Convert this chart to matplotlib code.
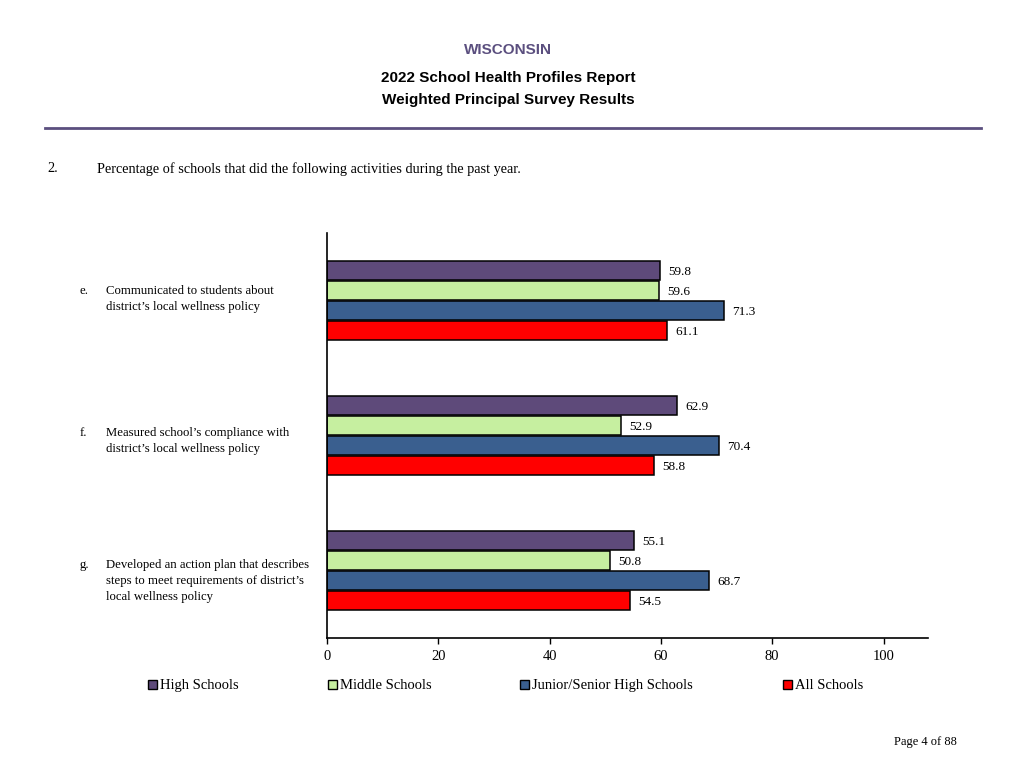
import numpy as np
import matplotlib
matplotlib.use("Agg")
import matplotlib.pyplot as plt
from matplotlib.patches import Rectangle

plt.rcParams['font.family'] = ['Liberation Serif', 'DejaVu Serif']

letters = ["e.", "f.", "g."]
items = [
    "Communicated to students about\ndistrict\u2019s local wellness policy",
    "Measured school\u2019s compliance with\ndistrict\u2019s local wellness policy",
    "Developed an action plan that describes\nsteps to meet requirements of district\u2019s\nlocal wellness policy",
]
series = ["High Schools", "Middle Schools", "Junior/Senior High Schools", "All Schools"]
high = [59.8, 62.9, 55.1]
middle = [59.6, 52.9, 50.8]
junior = [71.3, 70.4, 68.7]
all_schools = [61.1, 58.8, 54.5]
colors = ["#5E4A7A", "#C6EFA0", "#3A5F8F", "#FF0000"]

fig = plt.figure(figsize=(10.24, 7.68), dpi=100)
ax = fig.add_axes([0.3193, 0.1693, 0.5870, 0.5273])

y = np.arange(len(items))
step = 0.148
for k, vals in enumerate([high, middle, junior, all_schools]):
    pos = y + (k - 1.5) * step
    ax.barh(pos, vals, height=0.145, color=colors[k], edgecolor="black",
            linewidth=1.1, label=series[k])
    for p, v in zip(pos, vals):
        ax.text(v + 1.5, p + 0.01, f"{v:.1f}", va="center", ha="left", fontsize=9.5)

ax.set_xlim(0, 108)
ax.set_ylim(2.5, -0.5)
ax.set_xticks([0, 20, 40, 60, 80, 100])
ax.set_yticks([])
ax.tick_params(axis="x", length=4, width=1, labelsize=10.5, pad=5)
for s in ["top", "right"]:
    ax.spines[s].set_visible(False)
ax.spines["left"].set_linewidth(1.2)
ax.spines["bottom"].set_linewidth(1.2)

# category labels, slightly shifted like the original layout
label_shift = [-0.01, 0.042, 0.077]
for i in range(len(items)):
    nlines = items[i].count("\n") + 1
    yc = y[i] + label_shift[i]
    ax.annotate(letters[i] + "\n" * (nlines - 1), xy=(0.078, yc),
                xycoords=("figure fraction", "data"),
                va="center", ha="left", fontsize=9.2, linespacing=1.45)
    ax.annotate(items[i], xy=(0.1035, yc), xycoords=("figure fraction", "data"),
                va="center", ha="left", fontsize=9.2, linespacing=1.45)

# header
hx = 508 / 1024
fig.text(hx, 1 - 50 / 768, "WISCONSIN", ha="center", va="center", color="#5B4F7F",
         fontsize=11, fontweight="bold", family="Liberation Sans")
fig.text(hx, 1 - 78 / 768, "2022 School Health Profiles Report", ha="center", va="center",
         fontsize=11, fontweight="bold", family="Liberation Sans")
fig.text(hx, 1 - 100 / 768, "Weighted Principal Survey Results", ha="center", va="center",
         fontsize=11, fontweight="bold", family="Liberation Sans")
fig.add_artist(plt.Line2D([45 / 1024, 981 / 1024], [1 - 128 / 768, 1 - 128 / 768],
                          color="#5B4F7F", linewidth=2))

fig.text(47 / 1024, 1 - 169 / 768, "2.", ha="left", va="center", fontsize=10.25)
fig.text(97 / 1024, 1 - 169 / 768, "Percentage of schools that did the following activities during the past year.",
         ha="left", va="center", fontsize=10.25)

# legend drawn by hand so all labels share one baseline
legend_x = [148, 328, 520, 783]
for k in range(len(series)):
    x0 = legend_x[k] / 1024
    fig.add_artist(Rectangle((x0, 1 - 689 / 768), 9 / 1024, 9 / 768,
                             facecolor=colors[k], edgecolor="black", linewidth=1,
                             transform=fig.transFigure))
    fig.text(x0 + 12 / 1024, 1 - 689 / 768, series[k], ha="left", va="baseline",
             fontsize=10.5)

fig.text(925 / 1024, 1 - 742 / 768, "Page 4 of 88", ha="center", va="center", fontsize=9)

fig.savefig("out.png", dpi=100)
